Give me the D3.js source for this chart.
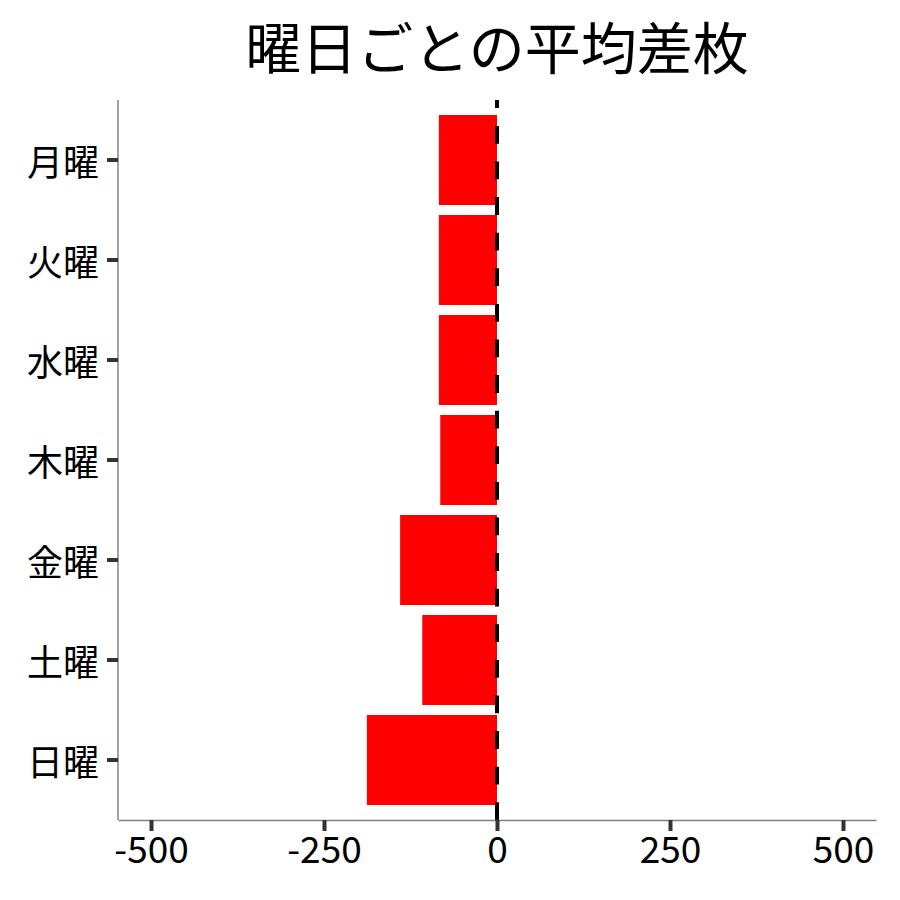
<!DOCTYPE html>
<html>
<head>
<meta charset="utf-8">
<script src="https://cdn.jsdelivr.net/npm/d3@7"></script>
<style>
  body { margin: 0; background: #fff; }
  text { font-family: "Noto Sans CJK JP", "Noto Sans", sans-serif; }
</style>
</head>
<body>
<script>
const days = ["月曜", "火曜", "水曜", "木曜", "金曜", "土曜", "日曜"];
const avgDiff = [-84, -84, -84, -82, -140, -108, -188];
const xTicks = [-500, -250, 0, 250, 500];
const titleText = "曜日ごとの平均差枚";

const width = 900, height = 900;
const margin = { top: 100, right: 24, bottom: 80, left: 118 };

const svg = d3.select("body").append("svg")
    .attr("width", width)
    .attr("height", height);

const x = d3.scaleLinear()
    .domain([-547.7, 547.7])
    .range([margin.left, width - margin.right]);

const y = d3.scaleBand()
    .domain(days)
    .range([margin.top, height - margin.bottom])
    .paddingInner(0.1)
    .paddingOuter(0.15);

// bars
svg.selectAll(".bar")
    .data(days)
    .join("rect")
    .attr("class", "bar")
    .attr("x", (d, i) => x(Math.min(0, avgDiff[i])))
    .attr("y", d => y(d))
    .attr("width", (d, i) => Math.abs(x(avgDiff[i]) - x(0)))
    .attr("height", y.bandwidth())
    .attr("fill", "#ff0000");

// zero line
const dashLen = 17.8;
svg.append("line")
    .attr("x1", x(0)).attr("x2", x(0))
    .attr("y1", margin.top).attr("y2", height - margin.bottom)
    .attr("stroke", "#000")
    .attr("stroke-width", 4)
    .attr("stroke-dasharray", `${dashLen},${dashLen}`)
    .attr("stroke-dashoffset", 9.7);

// x axis
const xAxis = svg.append("g")
    .attr("transform", `translate(0,${height - margin.bottom})`)
    .call(d3.axisBottom(x).tickValues(xTicks).tickSizeInner(11).tickSizeOuter(0)
        .tickPadding(6).tickFormat(d => String(d)));
xAxis.select(".domain").attr("stroke", "#808080").attr("stroke-width", 1.5);
xAxis.selectAll(".tick line").attr("stroke", "#333").attr("stroke-width", 4);
xAxis.selectAll("text")
    .attr("fill", "#000")
    .style("font-size", "37px")
    .attr("dy", "0.71em");

// y axis
const yAxis = svg.append("g")
    .attr("transform", `translate(${margin.left},0)`)
    .call(d3.axisLeft(y).tickSizeInner(11).tickSizeOuter(0).tickPadding(8));
yAxis.select(".domain").attr("stroke", "#808080").attr("stroke-width", 1.5)
    .attr("d", `M0,${margin.top}V${height - margin.bottom}`);
yAxis.selectAll(".tick line").attr("stroke", "#333").attr("stroke-width", 4);
yAxis.selectAll("text")
    .attr("fill", "#000")
    .style("font-size", "36px")
    .attr("dy", null)
    .attr("dominant-baseline", "central");

// title
svg.append("text")
    .attr("x", (x.range()[0] + x.range()[1]) / 2)
    .attr("y", 44)
    .attr("text-anchor", "middle")
    .attr("dominant-baseline", "central")
    .style("font-size", "56px")
    .attr("fill", "#000")
    .text(titleText);
</script>
</body>
</html>
